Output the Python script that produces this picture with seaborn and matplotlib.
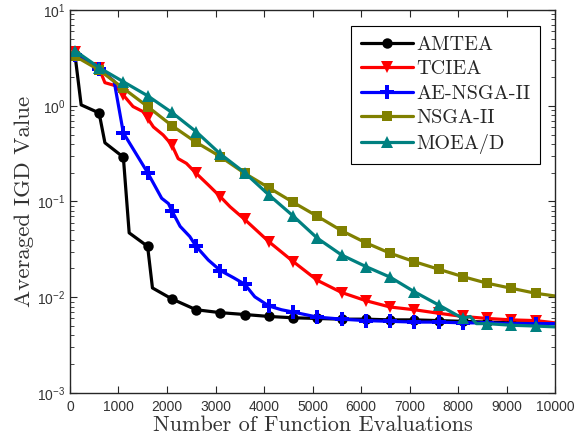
import numpy as np
import pandas as pd
import matplotlib
matplotlib.use("Agg")
import matplotlib.pyplot as plt
from matplotlib.lines import Line2D
from matplotlib.ticker import LogLocator, FixedLocator, NullFormatter
import seaborn as sns

# ---------------- data ----------------
amtea_x = [100, 230, 600, 720, 1100, 1220, 1600, 1700, 2100, 2600, 3100, 3600, 4100,
           4600, 5100, 5600, 6100, 6600, 7100, 7600, 8100, 8600, 9100, 9600, 10000]
amtea_y = [3.5, 1.02, 0.84, 0.41, 0.29, 0.047, 0.034, 0.0125, 0.0096, 0.0074, 0.0069,
           0.0066, 0.0063, 0.0061, 0.0060, 0.0059, 0.0059, 0.0058, 0.0058, 0.0057,
           0.0056, 0.0055, 0.0054, 0.0054, 0.0053]

tciea_x = [100, 600, 720, 930, 1100, 1300, 1500, 1600, 1720, 1920, 2100, 2230, 2400,
           2600, 2850, 3100, 3300, 3600, 4100, 4600, 5100, 5600, 6100, 6600, 7100,
           7600, 8100, 8600, 9100, 9600, 10000]
tciea_y = [3.6, 2.45, 1.74, 1.62, 1.29, 0.98, 0.87, 0.74, 0.60, 0.495, 0.39, 0.28,
           0.25, 0.197, 0.149, 0.112, 0.088, 0.065, 0.038, 0.0236, 0.015, 0.0112,
           0.0092, 0.0079, 0.0074, 0.0068, 0.0063, 0.0060, 0.0058, 0.0057, 0.0054]

aensga_x = [100, 600, 720, 910, 1100, 1600, 1890, 2030, 2100, 2270, 2470, 2600, 2850,
            3100, 3370, 3600, 3810, 4100, 4360, 4600, 5100, 5600, 6100, 6600, 7100,
            7600, 8100, 8600, 9100, 9600, 10000]
aensga_y = [3.4, 2.42, 2.18, 1.80, 0.52, 0.20, 0.108, 0.095, 0.080, 0.055, 0.043,
            0.034, 0.0245, 0.019, 0.016, 0.0137, 0.0101, 0.0081, 0.0074, 0.0070,
            0.0062, 0.0059, 0.0057, 0.0056, 0.0055, 0.0055, 0.0054, 0.0054, 0.0053,
            0.0053, 0.0053]

nsga_x = [100, 600, 1100, 1600, 2100, 2600, 3100, 3600, 4100, 4600, 5100, 5600, 6100,
          6600, 7100, 7600, 8100, 8600, 9100, 9600, 10000]
nsga_y = [3.3, 2.36, 1.52, 0.98, 0.62, 0.415, 0.294, 0.197, 0.139, 0.098, 0.070,
          0.0495, 0.037, 0.0288, 0.0235, 0.0196, 0.0164, 0.0140, 0.0124, 0.0110, 0.0103]

moead_x = [100, 600, 1100, 1600, 2100, 2600, 3100, 3600, 4100, 4600, 5100, 5600, 6100,
           6600, 7100, 7600, 8100, 8250, 8380, 8600, 9100, 9600, 10000]
moead_y = [3.76, 2.5, 1.78, 1.27, 0.85, 0.536, 0.313, 0.20, 0.117, 0.0706, 0.0413,
           0.0276, 0.0209, 0.0162, 0.0114, 0.0083, 0.0060, 0.0063, 0.0053, 0.0053,
           0.0051, 0.0050, 0.0049]

series_names = ["AMTEA", "TCIEA", "AE-NSGA-II", "NSGA-II", "MOEA/D"]
series_x = [amtea_x, tciea_x, aensga_x, nsga_x, moead_x]
series_y = [amtea_y, tciea_y, aensga_y, nsga_y, moead_y]
colors = ["#000000", "#FF0000", "#0000FF", "#808000", "#008080"]
markers = ["o", "v", "P", "s", "^"]
msizes = [7.5, 8.5, 10.5, 7, 8.5]

x_ticks = [0, 1000, 2000, 3000, 4000, 5000, 6000, 7000, 8000, 9000, 10000]

# ---------------- style ----------------
sns.set_style("ticks")
plt.rcParams["font.family"] = ["Liberation Sans", "DejaVu Sans"]
plt.rcParams["mathtext.fontset"] = "custom"
plt.rcParams["mathtext.rm"] = "Liberation Sans"
plt.rcParams["axes.formatter.use_mathtext"] = True

fig = plt.figure(figsize=(5.77, 4.48), dpi=100)
ax = fig.add_axes([0.1213, 0.1228, 0.8407, 0.855])

for name, xs, ys, c, m, ms in zip(series_names, series_x, series_y, colors, markers, msizes):
    df = pd.DataFrame({"x": xs, "y": ys})
    mk = [i for i, v in enumerate(xs) if v % 500 == 100]
    sns.lineplot(data=df, x="x", y="y", ax=ax, color=c, linewidth=2.3,
                 marker=m, markersize=ms, markevery=mk, markeredgewidth=0,
                 markerfacecolor=c, estimator=None, sort=False)

ax.set_yscale("log")
ax.set_xlim(0, 10000)
ax.set_ylim(1e-3, 1e1)
ax.xaxis.set_major_locator(FixedLocator(x_ticks))
ax.set_xticklabels([str(v) for v in x_ticks])
ax.yaxis.set_major_locator(LogLocator(base=10, numticks=10))
ax.yaxis.set_minor_locator(LogLocator(base=10, subs=np.arange(2, 10), numticks=10))
ax.yaxis.set_minor_formatter(NullFormatter())

ax.tick_params(axis="both", which="both", direction="in", top=True, right=True,
               labelsize=10, colors="#262626", labelcolor="#333333")
ax.tick_params(axis="both", which="major", length=5, width=0.8)
ax.tick_params(axis="y", which="minor", length=3, width=0.6)
ax.tick_params(axis="x", which="major", pad=5)
for sp in ax.spines.values():
    sp.set_visible(True)
    sp.set_linewidth(1.0)
    sp.set_color("#262626")

ax.set_xlabel("Number of Function Evaluations", fontfamily="cmr10", fontsize=16,
              color="#333333", labelpad=1)
ax.set_ylabel("Averaged IGD Value", fontfamily="cmr10", fontsize=16.5,
              color="#333333", labelpad=2)

handles = [Line2D([0], [0], color=c, lw=2.3, marker=m, markersize=ms,
                  markeredgewidth=0) for c, m, ms in zip(colors, markers, msizes)]
leg = ax.legend(handles, series_names, loc="upper right", bbox_to_anchor=(0.982, 0.975),
                prop={"family": "cmr10", "size": 14.5}, frameon=True, fancybox=False,
                edgecolor="#000000", framealpha=1, handlelength=2.6,
                handletextpad=0.15, labelspacing=0.32, borderpad=0.5,
                borderaxespad=0.3)
leg.get_frame().set_linewidth(0.8)

fig.savefig("out.png", dpi=100)
